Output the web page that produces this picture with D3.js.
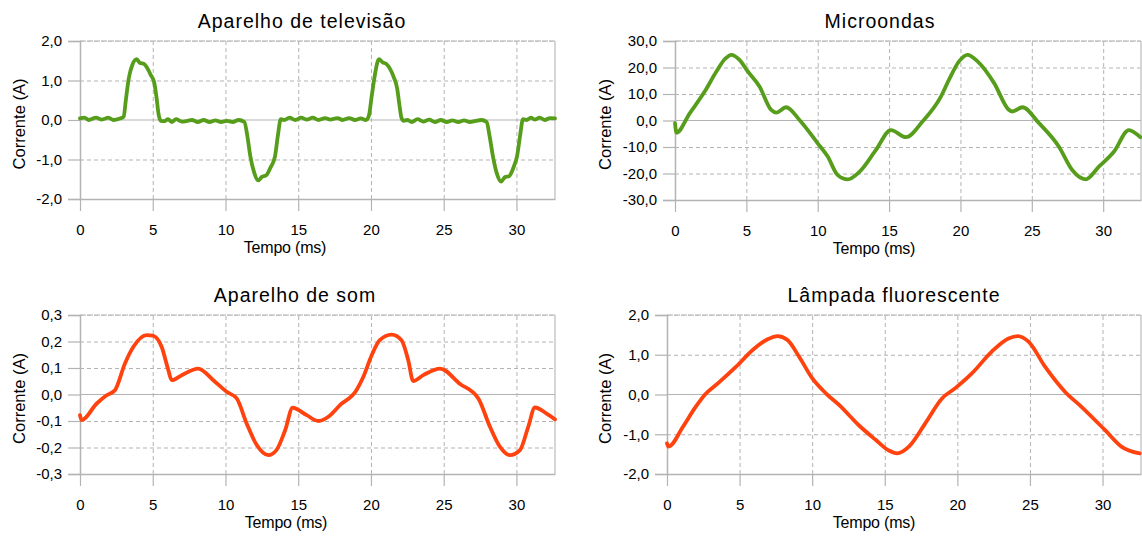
<!DOCTYPE html>
<html>
<head>
<meta charset="utf-8">
<script src="https://cdn.jsdelivr.net/npm/d3@7"></script>
<style>
  body { margin: 0; background: #fff; }
  svg { display: block; font-family: "Liberation Sans", Arial, sans-serif; }
</style>
</head>
<body>
<svg width="1142" height="536"></svg>
<script>
// tempo (ms) e corrente (A)
var tempoTV = [0, 0.3, 0.6, 1.1, 1.5, 1.95, 2.3, 2.75, 3.0, 3.15, 3.35, 3.6, 3.9, 4.1, 4.4, 4.6, 4.85, 5.1, 5.25, 5.4, 5.55,
  5.8, 6.05, 6.3, 6.6, 7.0, 7.4, 7.7, 8.1, 8.5, 8.9, 9.3, 9.7, 10.1, 10.5, 10.9, 11.3, 11.5, 11.7, 11.95, 12.25, 12.5, 12.8,
  13.1, 13.4, 13.6, 13.8, 14.05, 14.4, 14.8, 15.2, 15.6, 16.0, 16.4, 16.85, 17.2, 17.7, 18.05, 18.5, 18.9, 19.3, 19.65,
  19.85, 20.05, 20.25, 20.55, 20.8, 21.05, 21.3, 21.55, 21.8, 21.95, 22.1, 22.25, 22.5, 22.8, 23.2, 23.6, 24.0, 24.4,
  24.8, 25.2, 25.6, 26.0, 26.4, 26.8, 27.2, 27.6, 27.95, 28.15, 28.4, 28.65, 28.95, 29.2, 29.5, 29.8, 30.05, 30.25, 30.45,
  30.7, 31.0, 31.25, 31.6, 31.95, 32.3, 32.65];
var correnteTV = [0.04, 0.06, 0.0, 0.06, 0.01, 0.06, 0.0, 0.04, 0.08, 0.5, 1.05, 1.4, 1.54, 1.45, 1.42, 1.33, 1.15, 0.95, 0.6, 0.15, -0.02,
  -0.03, 0.02, -0.05, 0.02, -0.04, -0.02, 0.0, -0.05, 0.0, -0.05, -0.01, -0.05, -0.02, -0.05, 0.0, -0.05, -0.4, -0.9, -1.3, -1.53, -1.44, -1.4,
  -1.2, -0.93, -0.4, 0.02, 0.0, 0.06, 0.0, 0.06, 0.01, 0.06, 0.0, 0.05, 0.01, 0.05, 0.0, 0.05, 0.0, 0.04, 0.0,
  0.1, 0.6, 1.1, 1.54, 1.46, 1.42, 1.3, 1.1, 0.8, 0.4, 0.05, -0.02, 0.0, -0.05, 0.02, -0.04, 0.01, -0.05,
  0.0, -0.05, -0.01, -0.05, -0.01, -0.05, -0.02, 0.0, -0.05, -0.4, -0.95, -1.35, -1.56, -1.45, -1.42, -1.2, -0.9, -0.4, 0.02,
  0.0, 0.06, 0.01, 0.06, 0.0, 0.05, 0.04];

var tempoMicro = [0, 0.1, 1.03, 2.08, 2.9, 3.5, 3.94, 4.52, 5.1, 5.92, 6.74, 7.09, 7.79, 8.72, 10.0, 10.7, 11.4, 12.1, 12.9,
  14.08, 15.13, 16.18, 17.34, 18.63, 19.2, 19.9, 20.5, 21.2, 22.36, 23.4, 23.64, 24.34, 25.5, 26.9, 27.83, 28.77, 29.7,
  30.75, 31.8, 32.6];
var correnteMicro = [-1, -4.6, 2.7, 10.9, 18.5, 23.2, 24.8, 22.9, 18.5, 12.8, 4, 3.0, 5, 0.2, -8.6, -13.6, -20.6, -22.2, -19.5,
  -11.1, -3.6, -6.3, -0.4, 9, 15.4, 22.3, 24.8, 22.3, 14.1, 4, 3.4, 5, -1, -9.9, -18.7, -22.2, -17.4,
  -11.8, -3.6, -6.3];

var tempoSom = [0, 0.1, 1.15, 1.83, 2.4, 3.09, 3.67, 4.58, 5.0, 5.61, 6.07, 6.3, 6.99, 8.13, 9.16, 10.08, 10.77, 11.46, 12.14,
  12.94, 13.5, 14.1, 14.62, 15.58, 16.38, 17.07, 17.87, 19.0, 19.47, 20.05, 20.6, 21.42, 22.1, 22.56, 22.9, 23.6, 24.74,
  26.1, 27.38, 28.18, 28.87, 29.55, 30.24, 30.81, 31.27, 32.07, 32.65];
var correnteSom = [-0.078, -0.097, -0.034, -0.003, 0.016, 0.117, 0.18, 0.224, 0.222, 0.18, 0.092, 0.054, 0.073, 0.098, 0.054, 0.01, -0.015, -0.11, -0.19,
  -0.229, -0.21, -0.135, -0.05, -0.078, -0.1, -0.084, -0.04, 0.016, 0.066, 0.148, 0.205, 0.226, 0.205, 0.13, 0.051, 0.073, 0.098,
  0.041, -0.015, -0.122, -0.198, -0.229, -0.21, -0.122, -0.049, -0.072, -0.094];

var tempoLampada = [0, 0.1, 1.1, 1.9, 2.59, 3.5, 4.76, 5.9, 6.93, 7.62, 8.3, 9.1, 10.0, 10.94, 11.85, 13.23, 14.37, 15.28,
  15.85, 16.66, 17.8, 18.94, 19.86, 21.0, 22.37, 23.52, 24.16, 24.9, 26.04, 27.41, 28.55, 30.16, 31.3, 32.56];
var correnteLampada = [-1.23, -1.31, -0.81, -0.35, -0.01, 0.28, 0.7, 1.12, 1.39, 1.47, 1.37, 0.95, 0.41, 0.03, -0.26, -0.78, -1.14, -1.41,
  -1.48, -1.31, -0.72, -0.1, 0.16, 0.53, 1.08, 1.41, 1.47, 1.33, 0.7, 0.07, -0.31, -0.89, -1.31, -1.48];

var xTicks = [0, 5, 10, 15, 20, 25, 30];
var xMax = 32.65;

var locale = d3.formatLocale({decimal: ",", thousands: ".", grouping: [3], currency: ["", ""], minus: "-"});
var fmt = locale.format(".1f");

var svg = d3.select("svg");

var panels = [
  {title: "Aparelho de televisão", t: tempoTV, v: correnteTV, yTicks: [-2, -1, 0, 1, 2], color: "#579d1c",
   left: 80, right: 555, top: 41, bottom: 199, titleX: 302, labelX: 285, yLabelX: 25},
  {title: "Microondas", t: tempoMicro, v: correnteMicro, yTicks: [-30, -20, -10, 0, 10, 20, 30], color: "#579d1c",
   left: 675, right: 1141, top: 41, bottom: 200, titleX: 880, labelX: 874, yLabelX: 611},
  {title: "Aparelho de som", t: tempoSom, v: correnteSom, yTicks: [-0.3, -0.2, -0.1, 0, 0.1, 0.2, 0.3], color: "#ff420e",
   left: 80, right: 555, top: 315, bottom: 474, titleX: 295, labelX: 286, yLabelX: 25},
  {title: "Lâmpada fluorescente", t: tempoLampada, v: correnteLampada, yTicks: [-2, -1, 0, 1, 2], color: "#ff420e",
   left: 667, right: 1141, top: 315, bottom: 474, titleX: 894, labelX: 874, yLabelX: 611}
];

panels.forEach(function(p) {
  var w = p.right - p.left, h = p.bottom - p.top;
  var g = svg.append("g").attr("transform", "translate(" + p.left + "," + p.top + ")");

  var x = d3.scaleLinear().domain([0, xMax]).range([0, w]);
  var y = d3.scaleLinear().domain(d3.extent(p.yTicks)).range([h, 0]);

  // grade tracejada
  g.append("g")
      .attr("class", "grid")
      .call(d3.axisLeft(y).tickValues(p.yTicks.filter(function(d) { return d != 0; })).tickSize(-w).tickFormat(""))
      .call(function(s) { s.select(".domain").remove(); })
    .selectAll("line")
      .attr("stroke", "#b3b3b3")
      .attr("stroke-dasharray", "4,3");

  g.append("g")
      .attr("class", "grid")
      .attr("transform", "translate(0," + h + ")")
      .call(d3.axisBottom(x).tickValues(xTicks.slice(1)).tickSize(-h).tickFormat(""))
      .call(function(s) { s.select(".domain").remove(); })
    .selectAll("line")
      .attr("stroke", "#b3b3b3")
      .attr("stroke-dasharray", "4,3");

  // moldura
  g.append("line").attr("x1", 0).attr("x2", w).attr("y1", 0).attr("y2", 0)
      .attr("stroke", "#c8c8c8").attr("stroke-width", 1.5).attr("stroke-dasharray", "6,1");
  g.append("line").attr("x1", w).attr("x2", w).attr("y1", 0).attr("y2", h)
      .attr("stroke", "#c8c8c8").attr("stroke-width", 1.5);
  g.append("line").attr("x1", 0).attr("x2", w).attr("y1", y(0)).attr("y2", y(0))
      .attr("stroke", "#b3b3b3").attr("stroke-width", 1.2);

  // eixos
  var ay = g.append("g")
      .call(d3.axisLeft(y).tickValues(p.yTicks).tickSize(12).tickPadding(6).tickFormat(fmt));
  ay.select(".domain").attr("stroke", "#b3b3b3").attr("stroke-width", 1.5);
  ay.selectAll(".tick line").attr("stroke", "#b3b3b3").attr("stroke-width", 1.2);
  ay.selectAll("text").attr("font-size", 15).attr("fill", "#000")
      .attr("font-family", "Liberation Sans, Arial, sans-serif");

  var ax = g.append("g")
      .attr("transform", "translate(0," + h + ")")
      .call(d3.axisBottom(x).tickValues(xTicks).tickSize(12).tickPadding(13).tickSizeOuter(0));
  ax.select(".domain").attr("stroke", "#b3b3b3").attr("stroke-width", 1.5);
  ax.selectAll(".tick line").attr("stroke", "#b3b3b3").attr("stroke-width", 1.2);
  ax.selectAll("text").attr("font-size", 15).attr("fill", "#000")
      .attr("font-family", "Liberation Sans, Arial, sans-serif");

  // curva
  var data = p.t.map(function(t, i) { return {t: t, v: p.v[i]}; });
  var line = d3.line()
      .x(function(d) { return x(d.t); })
      .y(function(d) { return y(d.v); })
      .curve(d3.curveMonotoneX);

  g.append("path")
      .datum(data)
      .attr("fill", "none")
      .attr("stroke", p.color)
      .attr("stroke-width", 3.8)
      .attr("stroke-linejoin", "round")
      .attr("stroke-linecap", "round")
      .attr("d", line);

  // textos
  svg.append("text")
      .attr("x", p.titleX)
      .attr("y", p.top - 13)
      .attr("text-anchor", "middle")
      .attr("font-size", 19.5)
      .attr("letter-spacing", 1)
      .attr("fill", "#000")
      .text(p.title);

  svg.append("text")
      .attr("x", p.labelX)
      .attr("y", p.bottom + 54)
      .attr("text-anchor", "middle")
      .attr("font-size", 16)
      .attr("letter-spacing", -0.2)
      .attr("fill", "#000")
      .text("Tempo (ms)");

  svg.append("text")
      .attr("transform", "translate(" + p.yLabelX + "," + (p.top + h / 2 + 4) + ") rotate(-90)")
      .attr("text-anchor", "middle")
      .attr("font-size", 16.5)
      .attr("fill", "#000")
      .text("Corrente (A)");
});
</script>
</body>
</html>
